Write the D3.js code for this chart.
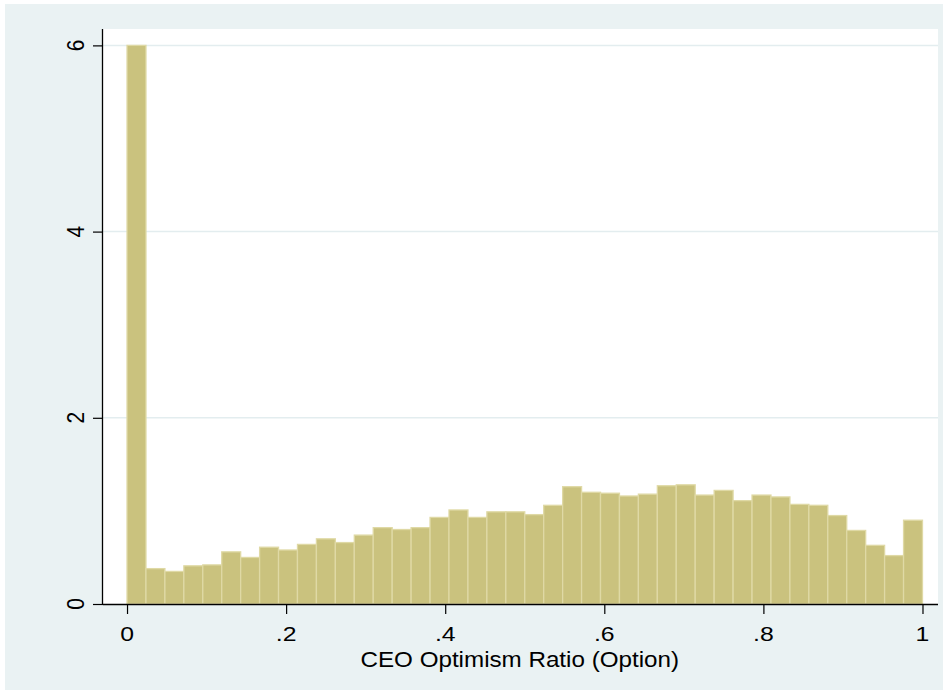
<!DOCTYPE html>
<html>
<head>
<meta charset="utf-8">
<script src="https://cdn.jsdelivr.net/npm/d3@7"></script>
<style>
  html, body { margin: 0; padding: 0; background: #ffffff; }
  svg { display: block; }
  text { font-family: "Liberation Sans", Arial, sans-serif; fill: #000; }
</style>
</head>
<body>
<svg id="chart" width="948" height="695"></svg>
<script>
// ---- Data ----
const binCount = 42;
const density = [
  6.00, 0.38, 0.35, 0.41, 0.42, 0.56, 0.50, 0.61, 0.58, 0.64,
  0.70, 0.66, 0.74, 0.82, 0.80, 0.82, 0.93, 1.01, 0.93, 0.99,
  0.99, 0.96, 1.06, 1.26, 1.20, 1.19, 1.16, 1.18, 1.27, 1.28,
  1.17, 1.22, 1.11, 1.17, 1.15, 1.07, 1.06, 0.95, 0.79, 0.63,
  0.52, 0.90
];
const xTicks = [0, 0.2, 0.4, 0.6, 0.8, 1];
const xTickLabels = ["0", ".2", ".4", ".6", ".8", "1"];
const yTicks = [0, 2, 4, 6];
const yTickLabels = ["0", "2", "4", "6"];
const xTitle = "CEO Optimism Ratio (Option)";

// ---- Layout ----
const svg = d3.select("#chart");
const plot = { left: 103, right: 938, top: 29, bottom: 604 };
const stretch = 1.18; // horizontal text stretch seen in the reference

svg.append("rect")
  .attr("x", 5).attr("y", 4).attr("width", 938).attr("height", 686)
  .attr("fill", "#eaf2f3");

svg.append("rect")
  .attr("x", plot.left).attr("y", plot.top)
  .attr("width", plot.right - plot.left).attr("height", plot.bottom - plot.top)
  .attr("fill", "#ffffff");

const x = d3.scaleLinear().domain([-0.0302, 1.0195]).range([plot.left, plot.right]);
const y = d3.scaleLinear().domain([0, 6.176]).range([plot.bottom, plot.top]);

// gridlines
svg.append("g").selectAll("line")
  .data(yTicks.filter(d => d > 0))
  .join("line")
  .attr("x1", plot.left).attr("x2", plot.right)
  .attr("y1", d => y(d)).attr("y2", d => y(d))
  .attr("stroke", "#e3edef").attr("stroke-width", 1.5);

// bars
const binW = 1 / binCount;
svg.append("g").selectAll("rect")
  .data(density)
  .join("rect")
  .attr("x", (d, i) => x(i * binW))
  .attr("width", (d, i) => x((i + 1) * binW) - x(i * binW))
  .attr("y", d => y(d))
  .attr("height", d => y(0) - y(d))
  .attr("fill", "#cac27e")
  .attr("stroke", "#dfd9a5")
  .attr("stroke-width", 1.3);

// x axis
const xAxis = d3.axisBottom(x).tickValues(xTicks).tickSize(10).tickFormat("");
const gx = svg.append("g").attr("transform", `translate(0,${plot.bottom})`).call(xAxis);
gx.select(".domain").attr("d", `M${plot.left},0.5H${plot.right}`).attr("stroke", "#000").attr("stroke-width", 1.3);
gx.selectAll(".tick line").attr("stroke", "#000").attr("stroke-width", 1.2);

svg.append("g").selectAll("text")
  .data(xTicks)
  .join("text")
  .attr("transform", d => `translate(${x(d)},641) scale(${stretch},1)`)
  .attr("text-anchor", "middle")
  .attr("font-size", 21)
  .text((d, i) => xTickLabels[i]);

// y axis
const yAxis = d3.axisLeft(y).tickValues(yTicks).tickSize(10).tickFormat("");
const gy = svg.append("g").attr("transform", `translate(${plot.left},0)`).call(yAxis);
gy.select(".domain").attr("d", `M-0.5,${plot.bottom}V${plot.top}`).attr("stroke", "#000").attr("stroke-width", 1.3);
gy.selectAll(".tick line").attr("stroke", "#000").attr("stroke-width", 1.2);

svg.append("g").selectAll("text")
  .data(yTicks)
  .join("text")
  .attr("transform", d => `translate(84,${y(d)}) scale(${stretch},1) rotate(-90)`)
  .attr("text-anchor", "middle")
  .attr("font-size", 21)
  .text((d, i) => yTickLabels[i]);

// x title
svg.append("text")
  .attr("transform", `translate(${(x(0) + x(1)) / 2 - 5},667) scale(1.1,1)`)
  .attr("text-anchor", "middle")
  .attr("font-size", 22)
  .text(xTitle);
</script>
</body>
</html>
